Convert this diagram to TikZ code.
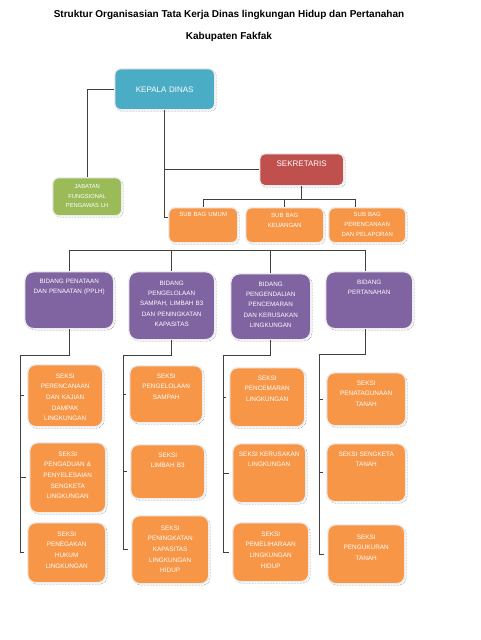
\documentclass[tikz,border=0pt]{standalone}
\usepackage{fontspec}
\setmainfont{Liberation Sans}
\usepackage{tikz}
\usetikzlibrary{positioning, calc}
\definecolor{tealDinas}{HTML}{4BACC6}
\definecolor{hijauFungsi}{HTML}{9BBB59}
\definecolor{merahSekre}{HTML}{C0504D}
\definecolor{unguBidang}{HTML}{8064A2}
\definecolor{oranyeSeksi}{HTML}{F79646}
\definecolor{garisGelap}{HTML}{404040}
\tikzset{
	ukuran/.style n args={3}{text width=#1pt-4pt, text height=#3pt-1pt, text depth=#2pt-#3pt-1pt},
	kotak/.style={rectangle, anchor=north west, inner xsep=2pt, inner ysep=1pt, align=center, text=white, draw=black!7, line width=1.4pt, preaction={draw=black!60, densely dotted, line width=0.5pt, transform canvas={xshift=1.5pt, yshift=-1.5pt}}},
	kepalabox/.style={kotak, rounded corners=6pt, fill=tealDinas, font=\fontsize{8}{10}\selectfont},
	jabatanbox/.style={kotak, rounded corners=6pt, fill=hijauFungsi, font=\fontsize{5.8}{9.5}\selectfont},
	sekbox/.style={kotak, rounded corners=5pt, fill=merahSekre, font=\fontsize{8}{10}\selectfont},
	subbagbox/.style={kotak, rounded corners=6pt, fill=oranyeSeksi, font=\fontsize{6}{10}\selectfont},
	bidangbox/.style={kotak, rounded corners=9pt, fill=unguBidang, font=\fontsize{6.3}{10.3}\selectfont},
	seksibox/.style={kotak, rounded corners=8pt, fill=oranyeSeksi, font=\fontsize{6.4}{10.6}\selectfont},
	judul/.style={font=\bfseries\fontsize{10}{12}\selectfont},
	link/.style={draw=garisGelap, line width=0.8pt}
}
\begin{document}
\begin{tikzpicture}[x=1pt, y=-1pt]
		\useasboundingbox [fill=white] (0,0) rectangle (480,640);
		% Judul
		\node (judul) [judul] at (229,15) {Struktur Organisasian Tata Kerja Dinas lingkungan Hidup dan Pertanahan};
		\node (judul2) [judul, below=6pt of judul] {Kabupaten Fakfak};
		
		% Pimpinan dan Sekretariat
		\node (kepala) [kepalabox, ukuran={100}{41}{24}] at (114,68) {KEPALA DINAS};
		\node (jab) [jabatanbox, ukuran={69}{38}{11}] at (52,177) {JABATAN\\FUNGSIONAL\\PENGAWAS LH};
		\node (sek) [sekbox, ukuran={84}{32}{13}] at (259,153) {SEKRETARIS};
		\node (sb1) [subbagbox, ukuran={69}{35}{9}] at (168,207) {SUB BAG UMUM};
		\node (sb2) [subbagbox, ukuran={78}{35}{10}] at (245,207) {SUB BAG\\KEUANGAN};
		\node (sb3) [subbagbox, ukuran={77}{35}{9}] at (328,207) {SUB BAG\\PERENCANAAN\\DAN PELAPORAN};
		
		% Bidang
		\node (b1) [bidangbox, ukuran={89}{57}{11.5}] at (24,271) {BIDANG PENATAAN\\DAN PENAATAN (PPLH)};
		\node (b2) [bidangbox, ukuran={86}{68}{13.5}] at (128,271) {BIDANG\\PENGELOLAAN\\SAMPAH, LIMBAH B3\\DAN PENINGKATAN\\KAPASITAS};
		\node (b3) [bidangbox, ukuran={80}{66}{12.5}] at (230,273) {BIDANG\\PENGENDALIAN\\PENCEMARAN\\DAN KERUSAKAN\\LINGKUNGAN};
		\node (b4) [bidangbox, ukuran={87}{57}{12.5}] at (325,271) {BIDANG\\PERTANAHAN};
		
		% Seksi
		\node (s11) [seksibox, ukuran={75}{62}{13.5}] at (27,364) {SEKSI\\PERENCANAAN\\DAN KAJIAN\\DAMPAK\\LINGKUNGAN};
		\node (s12) [seksibox, ukuran={76}{70}{13.5}] at (29,442) {SEKSI\\PENGADUAN \&\\PENYELESAIAN\\SENGKETA\\LINGKUNGAN};
		\node (s13) [seksibox, ukuran={78}{60}{13.5}] at (27,522) {SEKSI\\PENEGAKAN\\HUKUM\\LINGKUNGAN};
		\node (s21) [seksibox, ukuran={73}{57}{12.5}] at (129,365) {SEKSI\\PENGELOLAAN\\SAMPAH};
		\node (s22) [seksibox, ukuran={74}{54}{12.5}] at (130,444) {SEKSI\\LIMBAH B3};
		\node (s23) [seksibox, ukuran={77}{68}{14.5}] at (131,515) {SEKSI\\PENINGKATAN\\KAPASITAS\\LINGKUNGAN\\HIDUP};
		\node (s31) [seksibox, ukuran={75}{59}{12.5}] at (229,367) {SEKSI\\PENCEMARAN\\LINGKUNGAN};
		\node (s32) [seksibox, ukuran={73}{59}{12.5}] at (232,443) {SEKSI KERUSAKAN\\LINGKUNGAN};
		\node (s33) [seksibox, ukuran={76}{59}{13.5}] at (232,522) {SEKSI\\PEMELIHARAAN\\LINGKUNGAN\\HIDUP};
		\node (s41) [seksibox, ukuran={79}{53}{12.5}] at (326,372) {SEKSI\\PENATAGUNAAN\\TANAH};
		\node (s42) [seksibox, ukuran={79}{58}{12.5}] at (326,443) {SEKSI SENGKETA\\TANAH};
		\node (s43) [seksibox, ukuran={77}{59}{14.5}] at (327,524) {SEKSI\\PENGUKURAN\\TANAH};
		
		% Garis dari Kepala Dinas
		\draw [link] (kepala.west) -| (jab.north);
		\draw [link] (kepala.south) |- ([yshift=8pt]sb1.west);
		\draw [link] (kepala.south |- sek.west) -- (sek.west);
		
		% Garis Sekretariat
		\coordinate (sbus) at (0,199);
		\draw [link] (sek.south) -- (sek.south |- sbus);
		\draw [link] (sb1.north) -- (sb1.north |- sbus) -| ([xshift=-12pt]sb3.north);
		\draw [link] (sb2.north |- sbus) -- (sb2.north);
		
		% Garis Bidang
		\coordinate (bbus) at (0,250);
		\draw [link] (b1.north) -- (b1.north |- bbus) -| ([xshift=-4pt]b4.north);
		\draw [link] (b2.north |- bbus) -- (b2.north);
		\draw [link] (b3.north |- bbus) -- (b3.north);
		
		% Garis Seksi per kolom
		\coordinate (k1) at (20,355);
		\draw [link] (b1.south) |- (k1) |- ([xshift=-3pt]s13.west);
		\draw [link] (k1 |- s11.west) -- ([xshift=-3pt]s11.west);
		\draw [link] (k1 |- s12.west) -- ([xshift=-3pt]s12.west);
		\coordinate (k2) at (123,355);
		\draw [link] (b2.south) |- (k2) |- ([xshift=-3pt]s23.west);
		\draw [link] (k2 |- s21.west) -- ([xshift=-3pt]s21.west);
		\draw [link] (k2 |- s22.west) -- ([xshift=-3pt]s22.west);
		\coordinate (k3) at (223,355);
		\draw [link] (b3.south) |- (k3) |- ([xshift=-3pt]s33.west);
		\draw [link] (k3 |- s31.west) -- ([xshift=-3pt]s31.west);
		\draw [link] (k3 |- s32.west) -- ([xshift=-3pt]s32.west);
		\coordinate (k4) at (319,354);
		\draw [link] ([xshift=-4pt]b4.south) |- (k4) |- ([xshift=-3pt]s43.west);
		\draw [link] (k4 |- s41.west) -- ([xshift=-3pt]s41.west);
		\draw [link] (k4 |- s42.west) -- ([xshift=-3pt]s42.west);
	\end{tikzpicture}
\end{document}
